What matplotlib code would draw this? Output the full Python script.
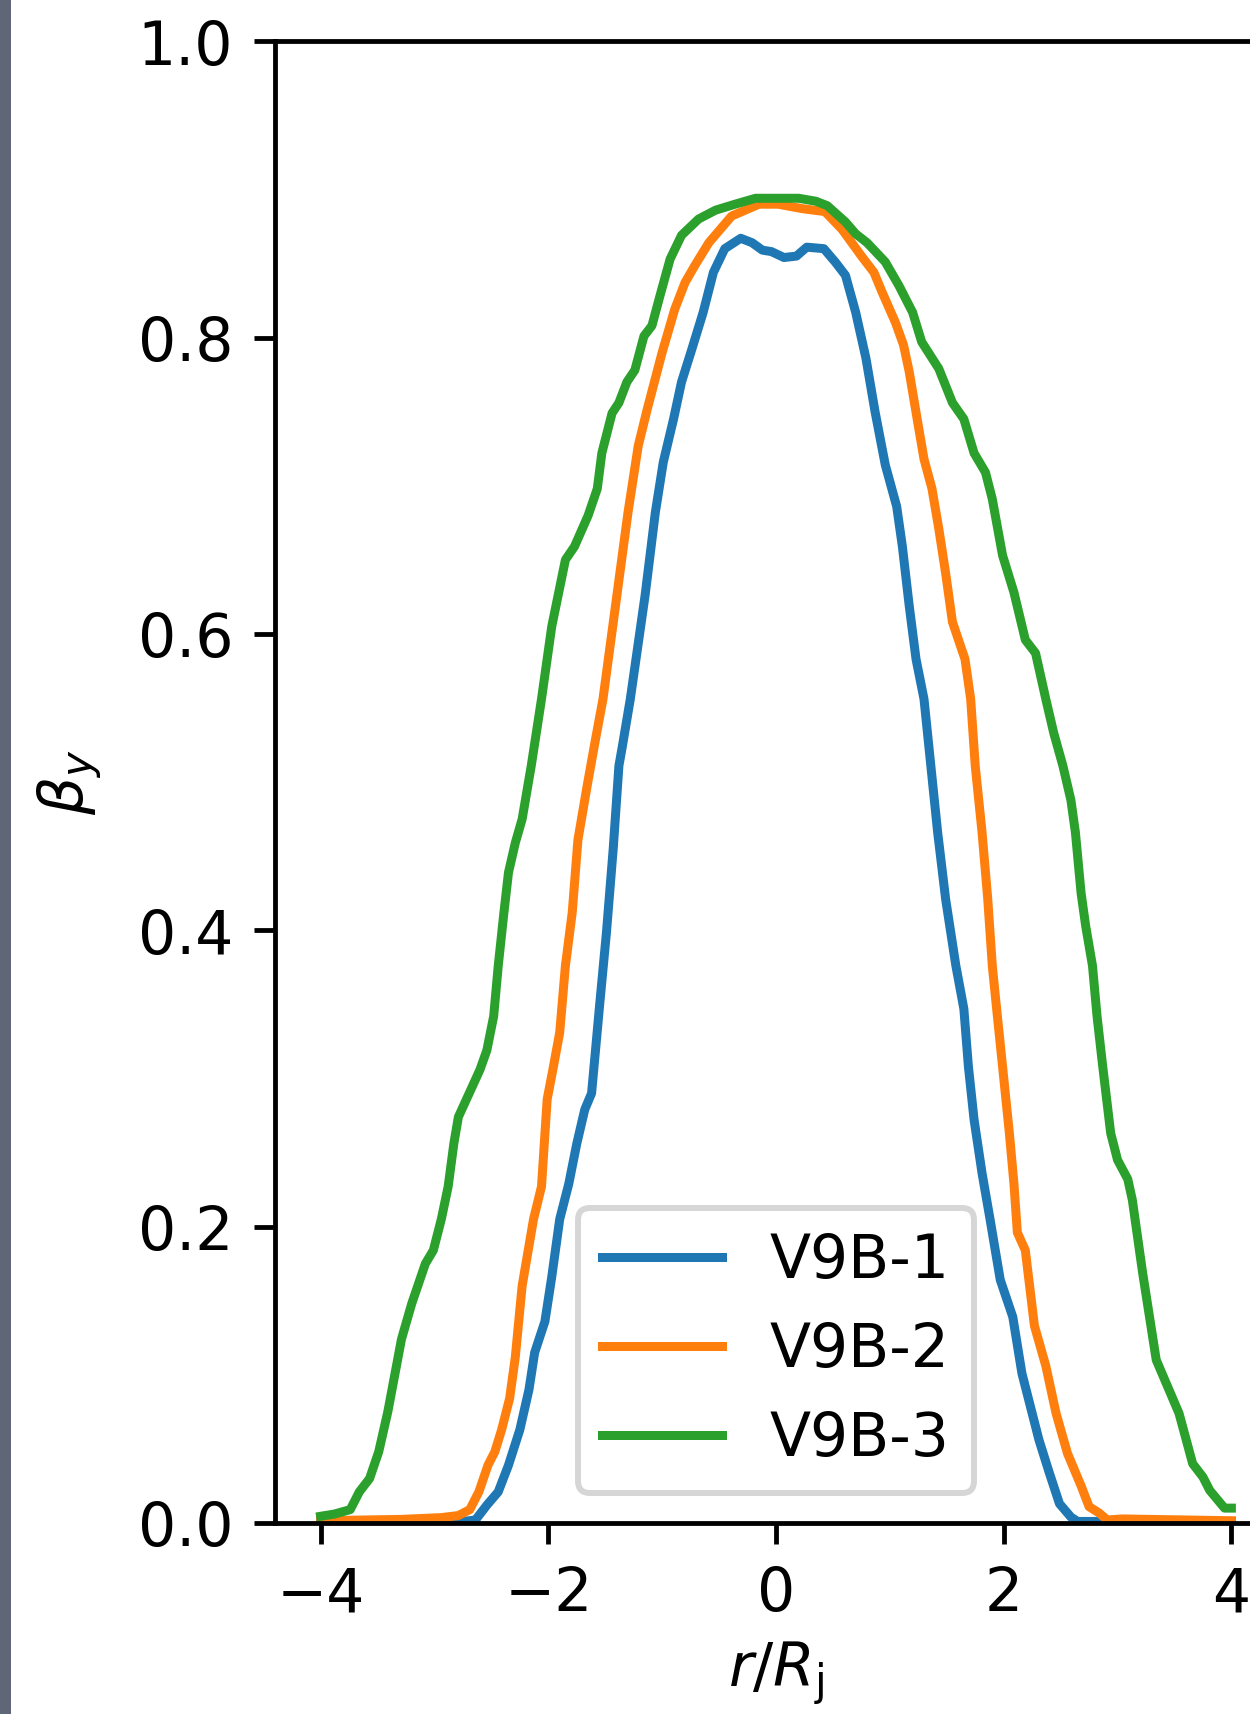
import matplotlib
matplotlib.use('Agg')
import matplotlib.pyplot as plt
from matplotlib.patches import Rectangle

# profiles, one (r, beta) pair per run
r_1 = [-4.0, -3.0, -2.75, -2.64, -2.54, -2.44, -2.35, -2.25, -2.17, -2.12, -2.03, -1.97,
       -1.90, -1.82, -1.75, -1.68, -1.62, -1.55, -1.49, -1.43, -1.38, -1.35, -1.28, -1.15,
       -1.06, -0.99, -0.90, -0.83, -0.74, -0.64, -0.55, -0.45, -0.31, -0.21, -0.12, -0.04,
       0.07, 0.18, 0.27, 0.42, 0.52, 0.61, 0.70, 0.79, 0.87, 0.96, 1.01, 1.06, 1.11, 1.17,
       1.23, 1.30, 1.36, 1.42, 1.49, 1.58, 1.65, 1.69, 1.74, 1.81, 1.88, 1.97, 2.08, 2.16,
       2.31, 2.40, 2.49, 2.59, 2.65, 2.80, 3.00, 4.00]
beta_1 = [0.001, 0.001, 0.001, 0.002, 0.012, 0.021, 0.039, 0.063, 0.090, 0.115, 0.136, 0.166,
          0.205, 0.229, 0.256, 0.279, 0.290, 0.349, 0.398, 0.455, 0.511, 0.524, 0.556, 0.626,
          0.682, 0.716, 0.745, 0.770, 0.792, 0.817, 0.844, 0.860, 0.867, 0.864, 0.859, 0.858,
          0.854, 0.855, 0.861, 0.860, 0.851, 0.842, 0.817, 0.786, 0.750, 0.714, 0.700, 0.686,
          0.659, 0.619, 0.583, 0.556, 0.511, 0.466, 0.421, 0.376, 0.347, 0.308, 0.272, 0.236,
          0.205, 0.164, 0.139, 0.101, 0.056, 0.034, 0.013, 0.004, 0.001, 0.001, 0.001, 0.001]

r_2 = [-4.0, -3.29, -2.94, -2.79, -2.69, -2.61, -2.53, -2.47, -2.41, -2.34, -2.29, -2.23,
       -2.13, -2.06, -2.01, -1.96, -1.90, -1.85, -1.79, -1.74, -1.66, -1.59, -1.52, -1.41,
       -1.30, -1.21, -1.13, -1.00, -0.89, -0.80, -0.71, -0.59, -0.39, -0.15, 0.02, 0.23,
       0.43, 0.58, 0.76, 0.86, 0.93, 1.05, 1.12, 1.17, 1.24, 1.30, 1.37, 1.43, 1.49, 1.55,
       1.66, 1.71, 1.75, 1.81, 1.86, 1.90, 1.93, 1.99, 2.05, 2.09, 2.12, 2.19, 2.27, 2.37,
       2.46, 2.56, 2.68, 2.75, 2.84, 2.91, 3.04, 4.00]
beta_2 = [0.0015, 0.0024, 0.0036, 0.005, 0.009, 0.021, 0.039, 0.048, 0.063, 0.084, 0.112, 0.160,
          0.205, 0.227, 0.286, 0.306, 0.331, 0.376, 0.412, 0.461, 0.497, 0.527, 0.556, 0.619,
          0.682, 0.727, 0.752, 0.790, 0.819, 0.837, 0.849, 0.864, 0.882, 0.890, 0.890, 0.887,
          0.885, 0.873, 0.854, 0.844, 0.831, 0.810, 0.795, 0.777, 0.745, 0.718, 0.698, 0.671,
          0.641, 0.608, 0.583, 0.556, 0.511, 0.466, 0.421, 0.376, 0.353, 0.308, 0.263, 0.229,
          0.196, 0.184, 0.133, 0.106, 0.074, 0.047, 0.025, 0.011, 0.0066, 0.002, 0.0027, 0.0015]

r_3 = [-4.0, -3.88, -3.74, -3.66, -3.57, -3.49, -3.41, -3.29, -3.20, -3.08, -3.01, -2.94,
       -2.88, -2.83, -2.79, -2.60, -2.54, -2.48, -2.44, -2.39, -2.35, -2.29, -2.23, -2.15,
       -2.06, -1.97, -1.85, -1.77, -1.65, -1.57, -1.53, -1.44, -1.38, -1.31, -1.24, -1.16,
       -1.09, -1.02, -0.93, -0.83, -0.68, -0.53, -0.36, -0.18, 0.0, 0.20, 0.35, 0.45, 0.61,
       0.70, 0.80, 0.96, 1.08, 1.20, 1.28, 1.43, 1.55, 1.65, 1.74, 1.84, 1.90, 1.99, 2.09,
       2.19, 2.28, 2.37, 2.44, 2.52, 2.59, 2.63, 2.68, 2.72, 2.78, 2.82, 2.87, 2.94, 3.00,
       3.09, 3.13, 3.22, 3.34, 3.54, 3.66, 3.75, 3.81, 3.94, 4.00]
beta_3 = [0.0045, 0.006, 0.009, 0.021, 0.030, 0.048, 0.075, 0.124, 0.148, 0.175, 0.184, 0.205,
          0.227, 0.256, 0.274, 0.306, 0.319, 0.342, 0.376, 0.412, 0.439, 0.459, 0.475, 0.511,
          0.556, 0.605, 0.650, 0.659, 0.680, 0.698, 0.722, 0.749, 0.756, 0.770, 0.778, 0.801,
          0.808, 0.828, 0.853, 0.869, 0.880, 0.886, 0.890, 0.894, 0.894, 0.894, 0.892, 0.889,
          0.878, 0.870, 0.864, 0.851, 0.835, 0.817, 0.797, 0.779, 0.756, 0.745, 0.722, 0.709,
          0.691, 0.653, 0.628, 0.596, 0.587, 0.556, 0.533, 0.511, 0.488, 0.466, 0.425, 0.403,
          0.376, 0.342, 0.308, 0.263, 0.245, 0.232, 0.218, 0.169, 0.110, 0.074, 0.040, 0.031,
          0.022, 0.010, 0.010]

labels = ['V9B-1', 'V9B-2', 'V9B-3']

DPI = 432
fig = plt.figure(figsize=(1250.5 / DPI, 1714.5 / DPI), dpi=DPI)
# axes run past the right edge, as in the cropped original
ax = fig.add_axes([275 / 1250, 191 / 1714, 1001.4 / 1250, 1481.3 / 1714])

ax.plot(r_1, beta_1, label=labels[0])
ax.plot(r_2, beta_2, label=labels[1])
ax.plot(r_3, beta_3, label=labels[2])

ax.set_xlim(-4.4, 4.4)
ax.set_ylim(0, 1)
ax.set_xticks([-4, -2, 0, 2, 4])
ax.set_yticks([0.0, 0.2, 0.4, 0.6, 0.8, 1.0])
ax.set_xlabel(r'$r/R_\mathrm{j}$', labelpad=2.5)
ax.set_ylabel(r'$\beta_y$', labelpad=5.5)
ax.legend(loc='lower center')

# dark strip on the left edge of the screenshot
fig.patches.append(Rectangle((0, 0), 11 / 1250, 1, transform=fig.transFigure,
                             facecolor='#5f6677', edgecolor='none'))

fig.savefig('out.png', dpi=DPI)
